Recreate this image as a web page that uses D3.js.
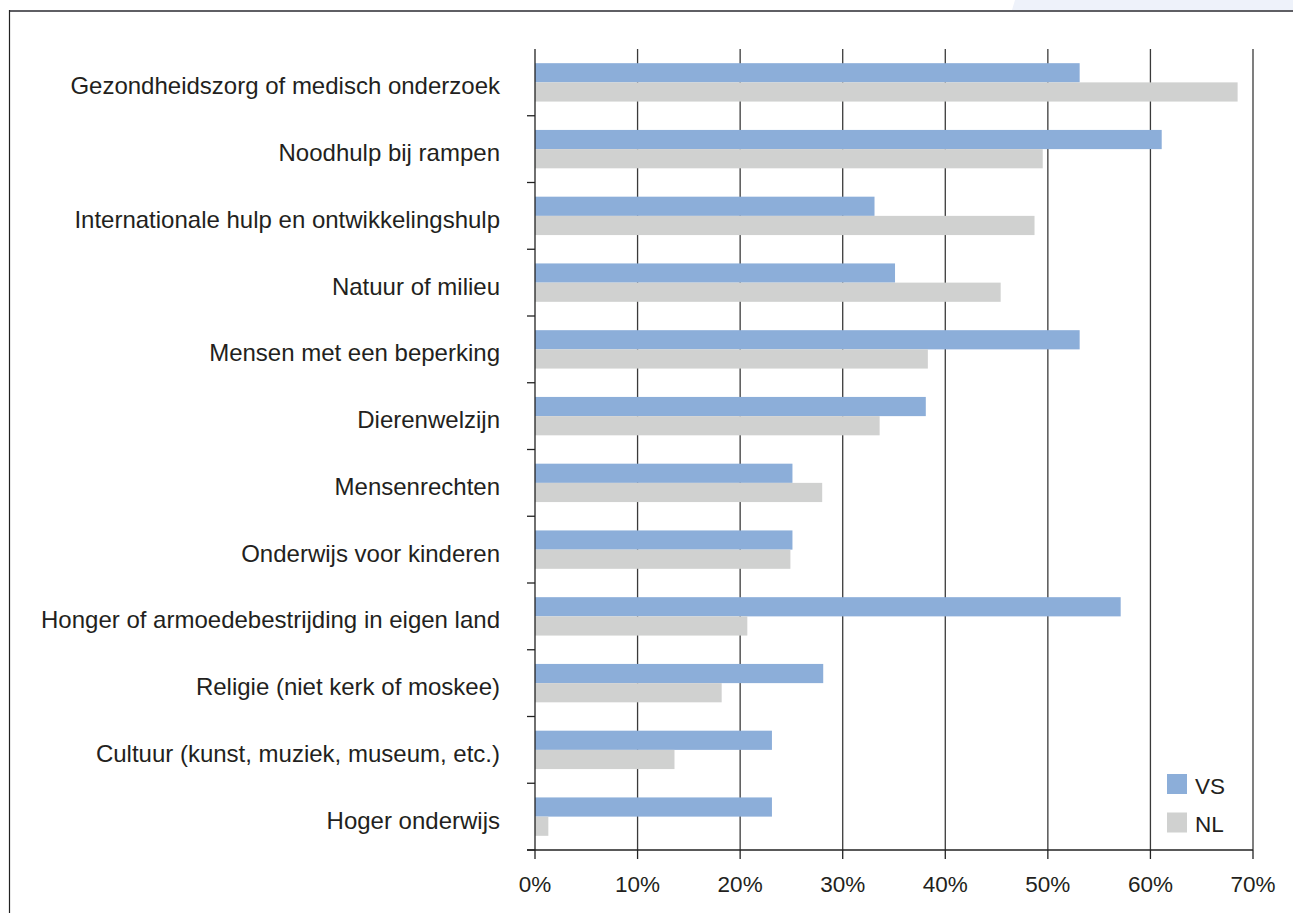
<!DOCTYPE html>
<html>
<head>
<meta charset="utf-8">
<script src="https://cdn.jsdelivr.net/npm/d3@7"></script>
<style>
  body { margin:0; background:#fff; }
  text { font-family: "Liberation Sans", Arial, sans-serif; fill:#231f20; }
</style>
</head>
<body>
<div class="canvas"></div>
<script>
const categories = [
  "Gezondheidszorg of medisch onderzoek",
  "Noodhulp bij rampen",
  "Internationale hulp en ontwikkelingshulp",
  "Natuur of milieu",
  "Mensen met een beperking",
  "Dierenwelzijn",
  "Mensenrechten",
  "Onderwijs voor kinderen",
  "Honger of armoedebestrijding in eigen land",
  "Religie (niet kerk of moskee)",
  "Cultuur (kunst, muziek, museum, etc.)",
  "Hoger onderwijs"
]
const vsValues = [53.1, 61.1, 33.1, 35.1, 53.1, 38.1, 25.1, 25.1, 57.1, 28.1, 23.1, 23.1]
const nlValues = [68.5, 49.5, 48.7, 45.4, 38.3, 33.6, 28.0, 24.9, 20.7, 18.2, 13.6, 1.3]
const seriesNames = ["VS", "NL"]
const xTicks = [0, 10, 20, 30, 40, 50, 60, 70]

const dim = { width:1293, height:913 }
const plot = { left:535, right:1253, top:49, bottom:850 }
const colors = { VS:"#8caed9", NL:"#d0d1d0" }

const svg = d3.select(".canvas").append("svg").attr("width",dim.width).attr("height",dim.height)

// frame bits
svg.append("path").attr("d","M1015,0 L1293,0 L1293,10 L1012,10 Z").attr("fill","#eef2fa")
svg.append("line").attr("x1",9).attr("x2",dim.width).attr("y1",11).attr("y2",11)
   .attr("stroke","#5f5f64").attr("stroke-width",2)
svg.append("line").attr("x1",9.5).attr("x2",9.5).attr("y1",10).attr("y2",dim.height)
   .attr("stroke","#222").attr("stroke-width",1.2)

const x = d3.scaleLinear().domain([0,70]).range([plot.left, plot.right])
const y = d3.scaleBand().domain(categories).range([plot.top, plot.bottom])
            .paddingInner(0.425).paddingOuter(0.2125)
const ySub = d3.scaleBand().domain(seriesNames).range([0, y.bandwidth()])

const data = categories.map((c,i) => ({ name:c, VS:vsValues[i], NL:nlValues[i] }))

// gridlines
svg.append("g").selectAll("line").data(xTicks.slice(1)).enter().append("line")
   .attr("x1",d=>x(d)).attr("x2",d=>x(d)).attr("y1",plot.top).attr("y2",plot.bottom)
   .attr("stroke","#3a3a3a").attr("stroke-width",1.3)

// bars
const groups = svg.append("g").selectAll("g").data(data).enter().append("g")
   .attr("transform", d => `translate(0,${y(d.name)})`)
groups.selectAll("rect").data(d => seriesNames.map(s => ({ s, v:d[s] }))).enter().append("rect")
   .attr("x", x(0)).attr("y", d => ySub(d.s))
   .attr("width", d => x(d.v) - x(0)).attr("height", ySub.bandwidth())
   .attr("fill", d => colors[d.s])

// y axis with ticks between categories
const step = y.step()
const yAxis = svg.append("g")
yAxis.append("line").attr("x1",plot.left).attr("x2",plot.left).attr("y1",plot.top).attr("y2",plot.bottom)
   .attr("stroke","#222").attr("stroke-width",1.3)
yAxis.selectAll(".ytick").data(d3.range(1, categories.length + 1)).enter().append("line")
   .attr("x1",plot.left-8).attr("x2",plot.left)
   .attr("y1",d=>plot.top + d*step).attr("y2",d=>plot.top + d*step)
   .attr("stroke","#222").attr("stroke-width",1.3)
yAxis.selectAll("text").data(categories).enter().append("text")
   .attr("x",500).attr("y",d=>y(d) + y.bandwidth()/2 + 12)
   .attr("text-anchor","end").style("font-size","24px").text(d=>d)

// x axis
const xAxis = svg.append("g")
xAxis.append("line").attr("x1",plot.left-8).attr("x2",plot.right).attr("y1",plot.bottom).attr("y2",plot.bottom)
   .attr("stroke","#222").attr("stroke-width",1.3)
xAxis.selectAll(".xtick").data(xTicks).enter().append("line")
   .attr("x1",d=>x(d)).attr("x2",d=>x(d)).attr("y1",plot.bottom).attr("y2",plot.bottom+9)
   .attr("stroke","#222").attr("stroke-width",1.3)
xAxis.selectAll("text").data(xTicks).enter().append("text")
   .attr("x",d=>x(d)).attr("y",plot.bottom+42)
   .attr("text-anchor","middle").style("font-size","22.5px").text(d=>d+"%")

// legend
const legend = svg.append("g").attr("transform","translate(1167,774)")
const li = legend.selectAll("g").data(seriesNames).enter().append("g")
   .attr("transform",(d,i)=>`translate(0,${i*38.5})`)
li.append("rect").attr("width",20).attr("height",20).attr("fill",d=>colors[d])
li.append("text").attr("x",28).attr("y",19.5).style("font-size","22.5px").text(d=>d)
</script>
</body>
</html>
